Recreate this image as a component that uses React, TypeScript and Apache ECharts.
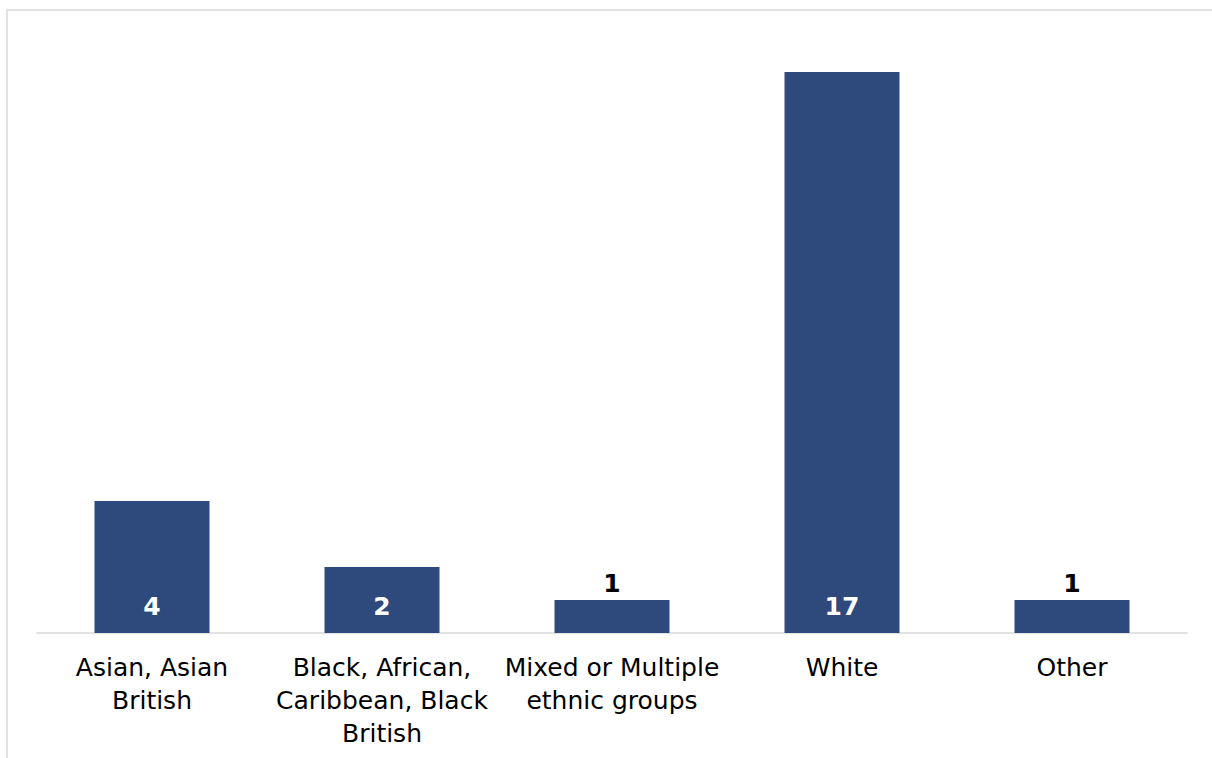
import React, { useEffect, useRef } from "react";
import * as echarts from "echarts";

const categories = [
  "Asian, Asian\nBritish",
  "Black, African,\nCaribbean, Black\nBritish",
  "Mixed or Multiple\nethnic groups",
  "White",
  "Other",
];
const counts = [4, 2, 1, 17, 1];

const BAR_COLOR = "#2E4A7C";
const FONT = "'DejaVu Sans', Arial, sans-serif";

export default function App() {
  const ref = useRef<HTMLDivElement>(null);

  useEffect(() => {
    if (!ref.current) return;
    const chart = echarts.init(ref.current, null, { renderer: "svg" });

    // Small bars get their value printed above; taller bars carry it inside.
    const data = counts.map((v) => ({
      value: v,
      label:
        v <= 1
          ? { position: "top", color: "#000000", distance: 4 }
          : { position: "insideBottom", color: "#ffffff", distance: 14 },
    }));

    chart.setOption({
      animation: false,
      backgroundColor: "#ffffff",
      graphic: [
        {
          type: "rect",
          shape: { x: 7, y: 10, width: 1230, height: 800 },
          style: { fill: "none", stroke: "#d9d9d9", lineWidth: 1.5 },
          silent: true,
        },
      ],
      grid: { left: 37, right: 25, top: 39, bottom: 125, containLabel: false },
      xAxis: {
        type: "category",
        data: categories,
        axisLine: { show: true, lineStyle: { color: "#d9d9d9", width: 1.5 } },
        axisTick: { show: false },
        axisLabel: {
          interval: 0,
          color: "#000000",
          fontFamily: FONT,
          fontSize: 25,
          lineHeight: 33,
          margin: 18,
        },
      },
      yAxis: {
        type: "value",
        min: 0,
        max: 18,
        show: false,
        splitLine: { show: false },
      },
      series: [
        {
          type: "bar",
          data,
          barWidth: "50%",
          itemStyle: { color: BAR_COLOR },
          label: {
            show: true,
            fontFamily: FONT,
            fontSize: 25,
            fontWeight: "bold",
          },
        },
      ],
    });

    return () => chart.dispose();
  }, []);

  return (
    <div
      ref={ref}
      style={{ position: "fixed", left: 0, top: 0, width: 1212, height: 758 }}
    />
  );
}
